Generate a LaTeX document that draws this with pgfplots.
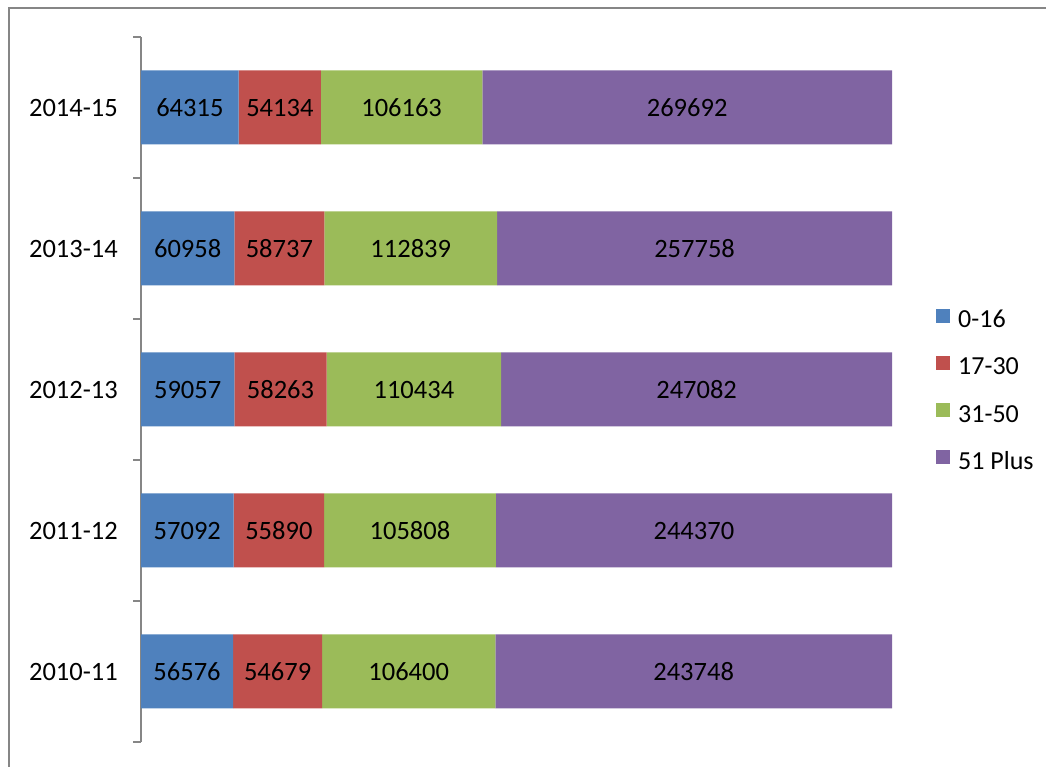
\documentclass[border=0pt]{standalone}
\usepackage{fontspec}
\setmainfont{Carlito}
\usepackage{pgfplots}
\usepackage{pgfplotstable}
\pgfplotsset{compat=1.18}
\definecolor{cA}{HTML}{4F81BD}
\definecolor{cB}{HTML}{C0504D}
\definecolor{cC}{HTML}{9BBB59}
\definecolor{cD}{HTML}{8064A2}
\definecolor{frame}{HTML}{868686}

\pgfplotstableread{
idx year a b c d
0 2010-11 56576 54679 106400 243748
1 2011-12 57092 55890 105808 244370
2 2012-13 59057 58263 110434 247082
3 2013-14 60958 58737 112839 257758
4 2014-15 64315 54134 106163 269692
}\data
\pgfplotstablecreatecol[create col/expr={\thisrow{a}+\thisrow{b}+\thisrow{c}+\thisrow{d}}]{tot}{\data}
\pgfplotstablecreatecol[create col/expr={100*\thisrow{a}/\thisrow{tot}}]{pa}{\data}
\pgfplotstablecreatecol[create col/expr={100*\thisrow{b}/\thisrow{tot}}]{pb}{\data}
\pgfplotstablecreatecol[create col/expr={100*\thisrow{c}/\thisrow{tot}}]{pc}{\data}
\pgfplotstablecreatecol[create col/expr={100*\thisrow{d}/\thisrow{tot}}]{pd}{\data}
\pgfplotstablecreatecol[create col/expr={\thisrow{pa}/2}]{ma}{\data}
\pgfplotstablecreatecol[create col/expr={\thisrow{pa}+\thisrow{pb}/2}]{mb}{\data}
\pgfplotstablecreatecol[create col/expr={\thisrow{pa}+\thisrow{pb}+\thisrow{pc}/2}]{mc}{\data}
\pgfplotstablecreatecol[create col/expr={\thisrow{pa}+\thisrow{pb}+\thisrow{pc}+\thisrow{pd}/2}]{md}{\data}

\begin{document}
\begin{tikzpicture}[font=\fontsize{26.5bp}{31bp}\selectfont]
\useasboundingbox (0,0) rectangle (1046bp,767bp);
\draw[frame, line width=2bp] (9bp,0bp) -- (9bp,759bp) -- (1046bp,759bp);
\begin{axis}[
  at={(141bp,25bp)}, anchor=south west,
  scale only axis, width=751bp, height=705bp,
  xbar stacked, bar width=74bp,
  xmin=0, xmax=100, ymin=-0.5, ymax=4.5,
  hide x axis,
  axis y line*=left,
  y axis line style={frame, line width=1.2bp, -},
  ytick={0,1,2,3,4},
  yticklabels={2010-11,2011-12,2012-13,2013-14,2014-15},
  major tick length=0pt,
  minor ytick={-0.5,0.5,1.5,2.5,3.5,4.5},
  minor tick length=8bp,
  tick align=outside,
  minor tick style={frame, line width=1.2bp},
  yticklabel style={font=\fontsize{26.5bp}{31bp}\selectfont, inner sep=0pt, xshift=-23bp},
  legend style={draw=none, fill=none, at={(rel axis cs:1.0586,0.615)}, anchor=north west,
    font=\fontsize{26bp}{31bp}\selectfont, row sep=28.2bp, column sep=0pt, inner sep=0pt,
    nodes={inner sep=0pt, text height=18bp, text depth=0bp}},
  legend cell align=left,
  legend image code/.code={\fill[#1] (0bp,-4bp) rectangle (14bp,10bp); \path (22bp,0);},
]
\addplot[fill=cA, draw=none] table[x=pa, y=idx] {\data};
\addplot[fill=cB, draw=none] table[x=pb, y=idx] {\data};
\addplot[fill=cC, draw=none] table[x=pc, y=idx] {\data};
\addplot[fill=cD, draw=none] table[x=pd, y=idx] {\data};
\legend{0-16,17-30,31-50,51 Plus}
\end{axis}
\begin{axis}[
  at={(141bp,25bp)}, anchor=south west,
  scale only axis, width=751bp, height=705bp,
  xmin=0, xmax=100, ymin=-0.5, ymax=4.5,
  hide axis, clip=false,
  nodes near coords, point meta=explicit symbolic,
  every node near coord/.append style={anchor=center, font=\fontsize{26.5bp}{31bp}\selectfont, text=black},
]
\addplot[draw=none, mark=none, nodes near coords align=center] table[x=ma, y=idx, meta=a] {\data};
\addplot[draw=none, mark=none, nodes near coords align=center] table[x=mb, y=idx, meta=b] {\data};
\addplot[draw=none, mark=none, nodes near coords align=center] table[x=mc, y=idx, meta=c] {\data};
\addplot[draw=none, mark=none, nodes near coords align=center] table[x=md, y=idx, meta=d] {\data};
\end{axis}
\end{tikzpicture}
\end{document}
